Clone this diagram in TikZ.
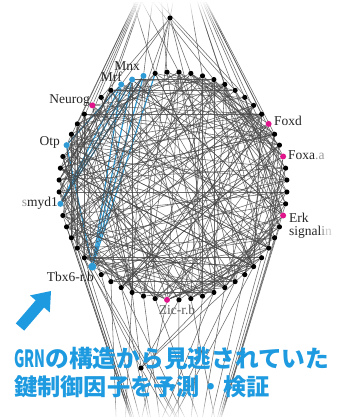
\documentclass[tikz,border=0pt]{standalone}
\usepackage{fontspec}
\setmainfont{Liberation Serif}
\newfontfamily\jpfont{Noto Sans CJK JP}
\usetikzlibrary{backgrounds}
\pgfdeclarelayer{fade}
\pgfsetlayers{background,fade,main}
\definecolor{mag}{HTML}{E0158C}
\definecolor{nblue}{HTML}{2E9BD6}
\definecolor{tblue}{HTML}{1E9BE0}
\begin{document}
\begin{tikzpicture}[x=1pt,y=-1pt,
  dot/.style={circle,fill=black,inner sep=0pt,minimum size=5.2pt},
  nodecol2/.style={fill=mag,minimum size=6pt},
  nodecol5/.style={fill=mag,minimum size=6pt},
  nodecol22/.style={fill=mag,minimum size=6pt},
  nodecol44/.style={fill=mag,minimum size=6pt},
  nodecol57/.style={fill=mag,minimum size=6pt},
  nodecol17/.style={fill=nblue,minimum size=6pt},
  nodecol18/.style={fill=nblue,minimum size=6pt},
  nodecol19/.style={fill=nblue,minimum size=6pt},
  nodecol26/.style={fill=nblue,minimum size=6pt},
  nodecol31/.style={fill=nblue,minimum size=6pt},
  nodecol37/.style={fill=nblue,minimum size=8pt},
  edge/.style={draw=black!72,line width=0.55pt,opacity=0.8},
  bedge/.style={draw=nblue,line width=1.2pt},
  lab/.style={font=\fontsize{13.5}{13.5}\selectfont,text=black!85,inner sep=0pt},
  jp/.style={text=tblue,inner sep=0pt,anchor=base west},
]
\useasboundingbox (0,0) rectangle (339,417);

% circle nodes
\foreach \k in {0,...,59}{
  \pgfmathsetmacro\ang{3+6*\k}
  \node[dot,nodecol\k/.try] (n\k) at ({173+114*cos(\ang)},{186-114*sin(\ang)}) {};
}
\node[dot] (top) at (170,18) {};
\node[dot] (bot) at (141,368) {};

% off-frame hubs
\coordinate (ta) at (158,-45);
\coordinate (tb) at (182,-45);
\coordinate (tc) at (120,-40);
\coordinate (bc) at (178,560);
\coordinate (bl) at (120,520);
\coordinate (br) at (235,520);
\coordinate (bx) at (200,470);

\begin{pgfonlayer}{background}
\fill[white] (0,0) rectangle (339,417);
% blue edges
\foreach \a/\b in {17/37,18/37,19/37,26/37,17/31,18/31,19/31,19/26,16/37}
  \draw[bedge] (n\a) -- (n\b);
% random chords
\pgfmathsetseed{4242}
\foreach \i in {1,...,245}{
  \pgfmathtruncatemacro\ea{random(0,59)}
  \pgfmathtruncatemacro\eb{mod(\ea+random(7,53),60)}
  \draw[edge] (n\ea) -- (n\eb);
}
% lines leaving the frame at the top
\foreach \k in {15,17,20,22,24,26,28,30,32}
  \draw[edge] (ta) -- (n\k);
\foreach \k in {0,2,4,6,8,10,12,57,55}
  \draw[edge] (tb) -- (n\k);
\foreach \k in {7,11,14,16}
  \draw[edge] (tc) -- (n\k);
\foreach \k in {9,13,16,19,21,36,42,50}
  \draw[edge] (top) -- (n\k);
\draw[edge] (top) -- (ta);
\draw[edge] (top) -- (tb);
% lines leaving the frame at the bottom
\foreach \k in {30,32,33,34,35,36,38,40,42,45,47,49,51,53,54,55,56,58}
  \draw[edge] (bc) -- (n\k);
\foreach \k in {39,41,44,48,50,52}
  \draw[edge] (bl) -- (n\k);
\foreach \k in {35,37,40,43,46}
  \draw[edge] (br) -- (n\k);
\foreach \k in {36,41,45,48,53}
  \draw[edge] (bot) -- (n\k);
\draw[edge] (bot) -- (bx);
\draw[edge] (bot) -- (bc);
\end{pgfonlayer}

% fades at top and bottom
\begin{pgfonlayer}{fade}
\foreach \i in {0,...,14}{
  \pgfmathsetmacro\op{1-\i/15}
  \fill[white,opacity=\op] (0,{\i*2}) rectangle (339,{\i*2+2});
}
\foreach \i in {0,...,11}{
  \pgfmathsetmacro\op{0.9*\i/11}
  \fill[white,opacity=\op] (0,{395+\i*2}) rectangle (339,{397+\i*2});
}
\end{pgfonlayer}

% labels
\node[lab,anchor=east] (lmnx) at (140,66) {Mnx};
\node[lab,anchor=east] (lmrf) at (122,77) {Mrf};
\node[lab,anchor=east] (lneu) at (90,101) {Neurog};
\node[lab,anchor=east] (lotp) at (60,142) {Otp};
\node[lab,anchor=east] (lsmy) at (58,203) {\textcolor{black!40}{s}myd1};
\node[lab,anchor=east] (ltbx) at (94,277) {Tbx6-r.b};
\node[lab,text=black!65] (lzic) at (177,310) {Zic-r.b};
\node[lab,anchor=west] (lfoxd) at (274,121) {Foxd};
\node[lab,anchor=west] (lfoxa) at (288,155) {Foxa\textcolor{black!40}{.a}};
\node[lab,anchor=west] (lerk) at (289,218) {Erk};
\node[lab,anchor=west] (lsig) at (289,232) {signal\textcolor{black!45}{i}\textcolor{black!20}{n}};

% arrow
\fill[tblue] (15.8,323.4) -- (35.7,300.3) -- (30,295.4) -- (51,291)
  -- (49.8,312.4) -- (44.1,307.5) -- (24.2,330.6) -- cycle;

% caption
\node[jp,font=\jpfont\bfseries\fontsize{23.7}{23.7}\selectfont] (t1) at (14,367)
  {\scalebox{0.6}[1]{GRN}の構造から見逃されていた};
\node[jp,font=\jpfont\bfseries\fontsize{23.2}{23.2}\selectfont] (t2) at (14,395)
  {鍵制御因子を予測・検証};
\end{tikzpicture}
\end{document}
